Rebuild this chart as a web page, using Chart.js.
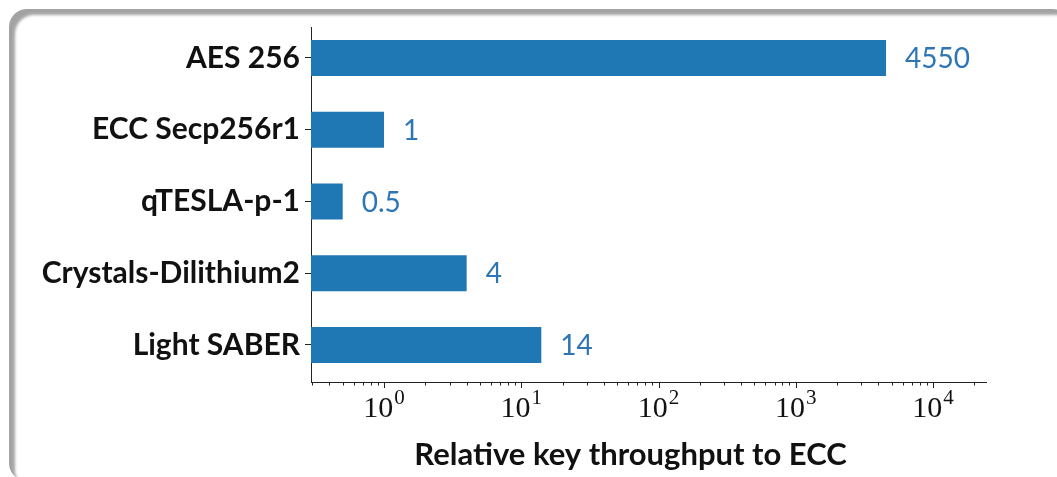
<!DOCTYPE html>
<html>
<head>
<meta charset="utf-8">
<script src="https://cdn.jsdelivr.net/npm/chart.js@4/dist/chart.umd.min.js"></script>
<style>
  html, body { margin: 0; padding: 0; background: #ffffff; }
  body { width: 1057px; height: 477px; position: relative; overflow: hidden; }
  .frame {
    position: absolute; left: 9px; top: 9px; width: 1062px; height: 472px;
    border-radius: 18px;
    box-shadow: inset 7px 7px 3px -1px rgba(0,0,0,0.36);
    background: #ffffff;
  }
  #wrap { position: absolute; left: 0; top: 0; width: 1057px; height: 477px; }
</style>
</head>
<body>
<div class="frame"></div>
<div id="wrap"><canvas id="chart" width="1057" height="477"></canvas></div>
<script>
// Throughput of each scheme relative to ECC Secp256r1
const categories = ['AES 256', 'ECC Secp256r1', 'qTESLA-p-1', 'Crystals-Dilithium2', 'Light SABER'];
const throughput = [4550, 1, 0.5, 4, 14];
const valueLabels = ['4550', '1', '0.5', '4', '14'];
const xTickExponents = [0, 1, 2, 3, 4];
const xAxisTitle = 'Relative key throughput to ECC';

const BAR_BLUE = '#1f77b4';
const LABEL_BLUE = '#2e75b6';
const INK = '#111111';

// Value annotations at the end of each bar
const barValueLabels = {
  id: 'barValueLabels',
  afterDatasetsDraw(chart) {
    const ctx = chart.ctx;
    const meta = chart.getDatasetMeta(0);
    ctx.save();
    ctx.font = '28px Lato';
    ctx.fillStyle = LABEL_BLUE;
    ctx.textAlign = 'left';
    ctx.textBaseline = 'middle';
    meta.data.forEach((bar, i) => {
      ctx.fillText(valueLabels[i], bar.x + 19, bar.y + 1);
    });
    ctx.restore();
  }
};

// Log-axis decorations: major/minor tick marks, 10^n labels and the axis title
const logAxisDecor = {
  id: 'logAxisDecor',
  afterDraw(chart) {
    const ctx = chart.ctx;
    const xs = chart.scales.x;
    const y0 = chart.chartArea.bottom;
    ctx.save();
    ctx.strokeStyle = '#222222';
    ctx.lineWidth = 1;
    for (let e = -1; e <= 4; e++) {
      for (let s = 1; s <= 9; s++) {
        const v = s * Math.pow(10, e);
        if (v < xs.min || v > xs.max) continue;
        const px = Math.round(xs.getPixelForValue(v)) + 0.5;
        const len = s === 1 ? 6 : 3.5;
        ctx.beginPath();
        ctx.moveTo(px, y0);
        ctx.lineTo(px, y0 + len);
        ctx.stroke();
      }
    }
    ctx.fillStyle = INK;
    ctx.textBaseline = 'alphabetic';
    const baseFont = '30px "Liberation Serif"';
    const supFont = '21px "Liberation Serif"';
    xTickExponents.forEach(k => {
      const px = xs.getPixelForValue(Math.pow(10, k));
      ctx.font = baseFont;
      const wBase = ctx.measureText('10').width;
      ctx.font = supFont;
      const wSup = ctx.measureText(String(k)).width;
      const left = px - (wBase + 1 + wSup) / 2;
      ctx.font = baseFont;
      ctx.textAlign = 'left';
      ctx.fillText('10', left, y0 + 35);
      ctx.font = supFont;
      ctx.fillText(String(k), left + wBase + 1, y0 + 22);
    });
    ctx.font = 'bold 31px Lato';
    ctx.textAlign = 'center';
    ctx.textBaseline = 'middle';
    const cx = (chart.chartArea.left + chart.chartArea.right) / 2 - 18;
    ctx.fillText(xAxisTitle, cx, y0 + 73);
    ctx.restore();
  }
};

new Chart(document.getElementById('chart'), {
  type: 'bar',
  data: {
    datasets: [{
      data: throughput.map((v, i) => ({ x: v, y: i })),
      backgroundColor: BAR_BLUE,
      borderWidth: 0,
      barPercentage: 0.5,
      categoryPercentage: 1.0
    }]
  },
  options: {
    indexAxis: 'y',
    responsive: false,
    animation: false,
    devicePixelRatio: 1,
    layout: { padding: { left: 0, right: 71, top: 27, bottom: 0 } },
    plugins: { legend: { display: false }, tooltip: { enabled: false } },
    scales: {
      x: {
        type: 'logarithmic',
        position: 'bottom',
        min: 0.2937,
        max: 24330,
        grid: { display: false },
        border: { display: true, color: '#222222', width: 1 },
        ticks: { display: false },
        afterFit(scale) { scale.height = 95; }
      },
      y: {
        type: 'linear',
        reverse: true,
        offset: false,
        min: -0.432,
        max: 4.516,
        afterBuildTicks(scale) { scale.ticks = categories.map((c, i) => ({ value: i })); },
        ticks: {
          autoSkip: false,
          padding: 5,
          color: INK,
          font: { family: 'Lato', weight: 'bold', size: 30 },
          callback: (v) => categories[v]
        },
        grid: { offset: false, drawOnChartArea: false, drawTicks: true, tickLength: 6, tickColor: '#222222', tickWidth: 1 },
        border: { display: true, color: '#222222', width: 1 },
        afterFit(scale) { scale.width = 311; }
      }
    }
  },
  plugins: [barValueLabels, logAxisDecor]
});
</script>
</body>
</html>
